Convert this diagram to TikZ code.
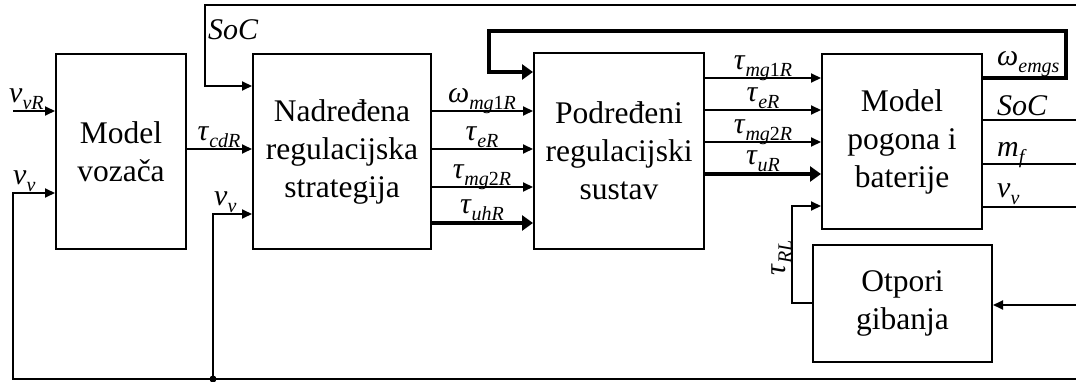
\documentclass[tikz,border=0pt]{standalone}
\usepackage{fontspec}
\setmainfont{Liberation Serif}
\usetikzlibrary{arrows.meta,calc}
\newcommand\sg[2]{\textit{#1}\raisebox{-6.5pt}{\fontsize{20}{20}\selectfont #2}}
\tikzset{
  blk/.style={draw, line width=2pt, align=center, font=\fontsize{31.5}{38}\selectfont, inner sep=0pt},
  ln/.style={line width=2pt},
  arr/.style={line width=2pt, -{Triangle[length=10pt,width=9pt]}},
  tarr/.style={line width=4.5pt, -{Triangle[length=11pt,width=15pt]}},
  lab/.style={font=\fontsize{30}{30}\selectfont, inner sep=0pt, anchor=base, text height=17pt, text depth=9pt},
  labw/.style={lab, anchor=base west},
}
\begin{document}
\begin{tikzpicture}[x=1pt,y=-1pt]
\useasboundingbox (0,0) rectangle (1076,382);
% blocks
\node[blk, minimum width=130pt, minimum height=195pt] (drv) at (121,151.5) {Model\\vozača};
\node[blk, minimum width=178pt, minimum height=195pt] (sup) at (342,151.5) {Nadređena\\regulacijska\\strategija};
\node[blk, minimum width=170pt, minimum height=196pt] (sub) at (619,151) {Podređeni\\regulacijski\\sustav};
\node[blk, minimum width=160pt, minimum height=175pt] (plant) at (902,141.5) {Model\\pogona i\\baterije};
\node[blk, minimum width=179pt, minimum height=117pt] (res) at (902.5,303.5) {Otpori\\gibanja};
% free ends
\coordinate (inL) at (13,111);
\coordinate (topR) at (1076,5);
\coordinate (botR) at (1076,379);
\coordinate (jn) at (213,379);
\coordinate (resR) at (1076,305);
% driver inputs
\draw[arr] (inL) -- (drv.west |- inL);
\draw[arr] (botR) -- (13,379) |- (drv.west |- 0,193);
\draw[arr] (jn) |- (sup.west |- 0,214);
\fill (jn) circle (3.5pt);
\draw[arr] (drv.east |- 0,149) -- (sup.west |- 0,149);
% SoC feedback
\draw[arr] (topR) -- (205,5) |- (sup.west |- 0,86);
% supervisory outputs
\draw[arr] (sup.east |- 0,111) -- (sub.west |- 0,111);
\draw[arr] (sup.east |- 0,149) -- (sub.west |- 0,149);
\draw[arr] (sup.east |- 0,187) -- (sub.west |- 0,187);
\draw[tarr] (sup.east |- 0,223) -- (sub.west |- 0,223);
% subordinate outputs
\draw[arr] (sub.east |- 0,78) -- (plant.west |- 0,78);
\draw[arr] (sub.east |- 0,110) -- (plant.west |- 0,110);
\draw[arr] (sub.east |- 0,142) -- (plant.west |- 0,142);
\draw[tarr] (sub.east |- 0,174) -- (plant.west |- 0,174);
% omega feedback
\draw[tarr] (plant.east |- 0,78) -- (1066,78) -- (1066,31) -- (489,31) |- (sub.west |- 0,72);
% plant outputs
\draw[ln] (plant.east |- 0,120) -- (1076,120);
\draw[ln] (plant.east |- 0,164) -- (1076,164);
\draw[ln] (plant.east |- 0,207) -- (1076,207);
% resistance
\draw[arr] (resR) -- (res.east |- resR);
\draw[arr] (res.west |- 0,303) -- ++(-20,0) |- (plant.west |- 0,206);
% labels
\node[labw] (l1) at (9,103) {\sg{v}{\textit{vR}}};
\node[labw] (l2) at (13,185) {\sg{v}{\textit{v}}};
\node[lab] (l3) at (219,141) {\sg{τ}{\textit{cdR}}};
\node[labw] (l4) at (208,40) {\textit{SoC}};
\node[labw] (l5) at (214,206) {\sg{v}{\textit{v}}};
\node[lab] (l6) at (482,103) {\sg{ω}{\textit{mg}1\textit{R}}};
\node[lab] (l7) at (482,141) {\sg{τ}{\textit{eR}}};
\node[lab] (l8) at (482,179) {\sg{τ}{\textit{mg}2\textit{R}}};
\node[lab] (l9) at (482,214) {\sg{τ}{\textit{uhR}}};
\node[lab] (l10) at (763,70) {\sg{τ}{\textit{mg}1\textit{R}}};
\node[lab] (l11) at (763,102) {\sg{τ}{\textit{eR}}};
\node[lab] (l12) at (763,134) {\sg{τ}{\textit{mg}2\textit{R}}};
\node[lab] (l13) at (763,165) {\sg{τ}{\textit{uR}}};
\node[labw] (l14) at (997,66) {\sg{ω}{\textit{emgs}}};
\node[labw] (l15) at (997,116) {\textit{SoC}};
\node[labw] (l16) at (997,157) {\sg{m}{\textit{f}}};
\node[labw] (l17) at (997,198) {\sg{v}{\textit{v}}};
\node[lab, rotate=90] (l18) at (785,258) {\sg{τ}{\textit{RL}}};
\end{tikzpicture}
\end{document}
